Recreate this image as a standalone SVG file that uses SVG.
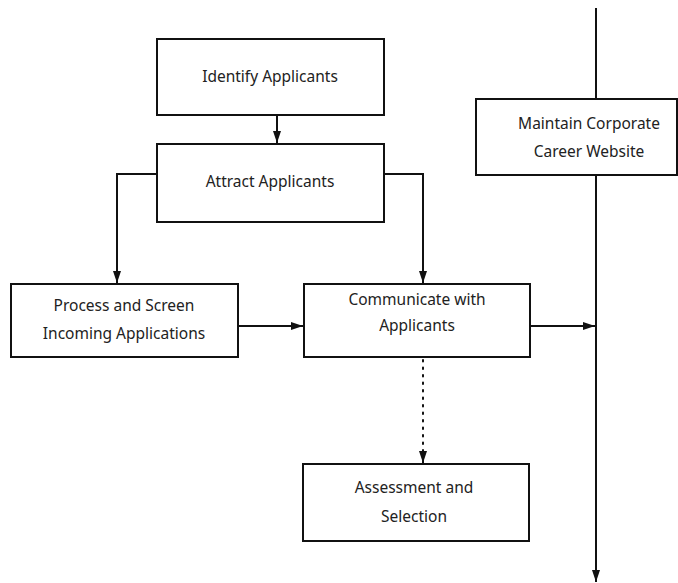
<svg xmlns="http://www.w3.org/2000/svg" width="678" height="583" viewBox="0 0 678 583">
<defs>
<marker id="ah" viewBox="0 0 12 8" refX="12" refY="4" markerWidth="6" markerHeight="4" orient="auto" markerUnits="strokeWidth">
<path d="M0,0 L12,4 L0,8 z" fill="#111"/>
</marker>
<style>
.box{fill:#fff;stroke:#111;stroke-width:2}
.lbl{font-family:"Noto Sans","Liberation Sans",sans-serif;font-size:15.5px;fill:#222;text-anchor:middle}
.c{fill:none;stroke:#111;stroke-width:2}
.d{fill:none;stroke:#111;stroke-width:2;stroke-dasharray:1.5 6;stroke-linecap:round}
</style>
</defs>
<g id="connectors">
<path class="c" d="M596,8 V99"/>
<path class="c" d="M596,175 V582" marker-end="url(#ah)"/>
<path class="c" d="M277,115 V143" marker-end="url(#ah)"/>
<path class="c" d="M157,174 H117 V283" marker-end="url(#ah)"/>
<path class="c" d="M384,174 H423 V283" marker-end="url(#ah)"/>
<path class="c" d="M238,326 H303" marker-end="url(#ah)"/>
<path class="c" d="M530,326 H595" marker-end="url(#ah)"/>
<path class="d" d="M423,360 V452"/>
<path class="c" d="M423,454 V463" marker-end="url(#ah)"/>
</g>
<g id="identify">
<rect class="box" x="157" y="39" width="227" height="76"/>
<text class="lbl" x="270" y="82">Identify Applicants</text>
</g>
<g id="attract">
<rect class="box" x="157" y="144" width="227" height="78"/>
<text class="lbl" x="270" y="187">Attract Applicants</text>
</g>
<g id="process">
<rect class="box" x="11" y="284" width="227" height="73"/>
<text class="lbl" x="124" y="311">Process and Screen</text>
<text class="lbl" x="124" y="339">Incoming Applications</text>
</g>
<g id="communicate">
<rect class="box" x="304" y="284" width="226" height="73"/>
<text class="lbl" x="417" y="305">Communicate with</text>
<text class="lbl" x="417" y="331">Applicants</text>
</g>
<g id="assessment">
<rect class="box" x="303" y="464" width="226" height="77"/>
<text class="lbl" x="414" y="493">Assessment and</text>
<text class="lbl" x="414" y="522">Selection</text>
</g>
<g id="maintain">
<rect class="box" x="476" y="99" width="201" height="76"/>
<text class="lbl" x="589" y="129">Maintain Corporate</text>
<text class="lbl" x="589" y="157">Career Website</text>
</g>
</svg>
